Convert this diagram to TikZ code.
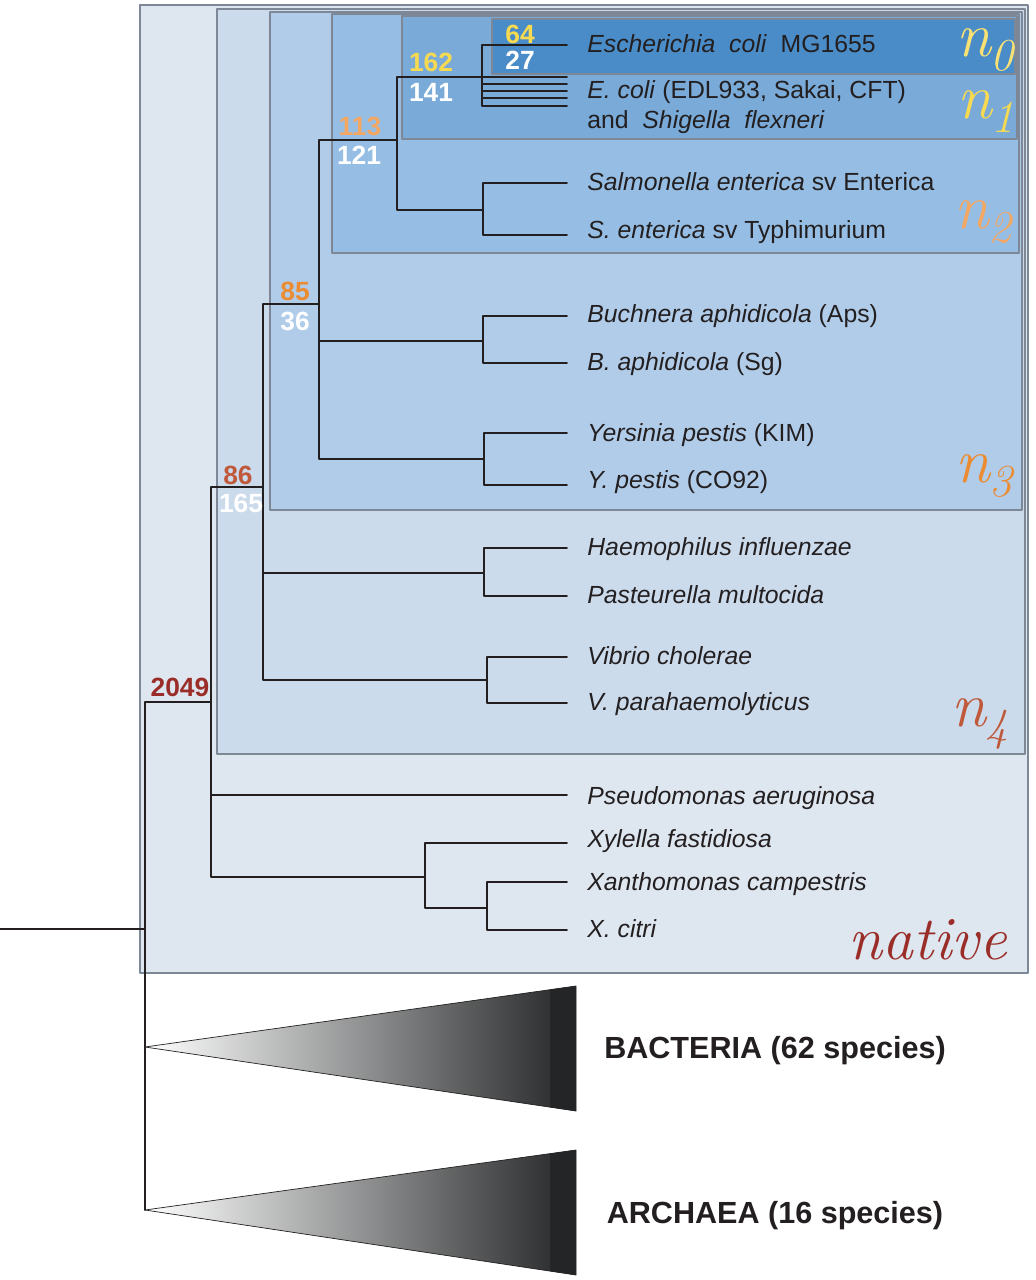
\documentclass[tikz,border=0pt]{standalone}
\usepackage{fontspec}
\setsansfont{Liberation Sans}
\usetikzlibrary{arrows}

\definecolor{boxnative}{RGB}{222,230,240}
\definecolor{boxfour}{RGB}{203,219,236}
\definecolor{boxthree}{RGB}{177,204,233}
\definecolor{boxtwo}{RGB}{150,190,228}
\definecolor{boxone}{RGB}{121,170,216}
\definecolor{boxzero}{RGB}{74,140,200}
\definecolor{rimgray}{RGB}{125,135,150}
\definecolor{inkdark}{RGB}{35,31,32}
\definecolor{numyellow}{RGB}{247,218,80}
\definecolor{numpeach}{RGB}{245,168,100}
\definecolor{numorange}{RGB}{236,140,50}
\definecolor{numrust}{RGB}{192,88,58}
\definecolor{numred}{RGB}{155,45,40}
\definecolor{midgray}{RGB}{124,130,136}
\definecolor{darkend}{RGB}{35,37,38}

\newcommand{\cladesub}[1]{\raisebox{-0.22em}{\fontsize{26}{26}\selectfont #1}}

\begin{document}
\begin{tikzpicture}[line cap=round,line join=round,x=0.02cm,y=-0.02cm,
  branch/.style={line width=1.1pt,inkdark},
  cladebox/.style={draw=rimgray,line width=0.6pt},
  taxon/.style={anchor=west,inner sep=0pt,text height=10pt,text depth=1pt,
    font=\sffamily\fontsize{14.1}{16}\selectfont,text=inkdark},
  num/.style={inner sep=0pt,font=\sffamily\bfseries\fontsize{15}{15}\selectfont},
  cladename/.style={inner sep=0pt,font=\rmfamily\itshape\fontsize{36}{36}\selectfont},
  group/.style={inner sep=0pt,font=\sffamily\bfseries\fontsize{17.4}{20}\selectfont,text=inkdark}]
\useasboundingbox (0,0) rectangle (1035,1280);
%
% nested clade boxes
\draw[cladebox,fill=boxnative] (140,5) rectangle (1028,973);
\draw[cladebox,fill=boxfour] (217,9) rectangle (1025,754);
\draw[cladebox,fill=boxthree] (270,12) rectangle (1022,510);
\draw[cladebox,fill=boxtwo] (332,14) rectangle (1019,253);
\draw[cladebox,fill=boxone] (402,16) rectangle (1017,139);
\draw[cladebox,fill=boxzero] (492,19) rectangle (1015,74);
%
% internal nodes
\coordinate (root) at (0,929);
\coordinate (c0) at (145,929);
\coordinate (c2049) at (211,702);
\coordinate (c86) at (263,487);
\coordinate (c85) at (319,304);
\coordinate (c113) at (397,140);
\coordinate (c162) at (482,77);
\coordinate (cSal) at (483,210);
\coordinate (cBuc) at (483,341);
\coordinate (cYer) at (484,459);
\coordinate (cHae) at (484,573);
\coordinate (cVib) at (487,680);
\coordinate (cXan) at (425,877);
\coordinate (cXc) at (487,908);
\coordinate (aBac) at (145,1047);
\coordinate (aArc) at (145,1210);
%
% leaf ends
\coordinate (lEco) at (567,45);
\foreach \yy [count=\i] in {77,84,91,98,106} \coordinate (lEc\i) at (567,\yy);
\coordinate (lSal) at (567,183);
\coordinate (lSty) at (567,235);
\coordinate (lBuc) at (567,316);
\coordinate (lBsg) at (567,363);
\coordinate (lYer) at (567,433);
\coordinate (lYco) at (567,485);
\coordinate (lHae) at (567,548);
\coordinate (lPas) at (567,596);
\coordinate (lVch) at (567,657);
\coordinate (lVpa) at (567,703);
\coordinate (lPse) at (567,795);
\coordinate (lXyl) at (567,843);
\coordinate (lXca) at (567,882);
\coordinate (lXci) at (567,930);
%
% collapsed groups
\shade[left color=white,middle color=midgray,right color=darkend,draw=inkdark,thin]
  (aBac) -- (576,986) -- (576,1111) -- cycle;
\shade[left color=white,middle color=midgray,right color=darkend,draw=inkdark,thin]
  (aArc) -- (576,1150) -- (576,1275) -- cycle;
\begin{scope}
\clip (aBac) -- (576,986) -- (576,1111) -- cycle;
\fill[darkend] (550,980) rectangle (576,1115);
\end{scope}
\begin{scope}
\clip (aArc) -- (576,1150) -- (576,1275) -- cycle;
\fill[darkend] (550,1145) rectangle (576,1280);
\end{scope}
%
% branches
\draw[branch] (root) -- (c0);
\draw[branch] (c0) |- (c2049);
\draw[branch] (c0) |- (aBac);
\draw[branch] (c0) |- (aArc);
\draw[branch] (c2049) |- (c86);
\draw[branch] (c2049) |- (lPse);
\draw[branch] (c2049) |- (cXan);
\draw[branch] (c86) |- (c85);
\draw[branch] (c86) |- (cHae);
\draw[branch] (c86) |- (cVib);
\draw[branch] (c85) |- (c113);
\draw[branch] (c85) |- (cBuc);
\draw[branch] (c85) |- (cYer);
\draw[branch] (c113) |- (c162);
\draw[branch] (c113) |- (cSal);
\draw[branch] (c162) |- (lEco);
\foreach \i in {1,...,5} \draw[branch] (c162) |- (lEc\i);
\draw[branch] (cSal) |- (lSal);
\draw[branch] (cSal) |- (lSty);
\draw[branch] (cBuc) |- (lBuc);
\draw[branch] (cBuc) |- (lBsg);
\draw[branch] (cYer) |- (lYer);
\draw[branch] (cYer) |- (lYco);
\draw[branch] (cHae) |- (lHae);
\draw[branch] (cHae) |- (lPas);
\draw[branch] (cVib) |- (lVch);
\draw[branch] (cVib) |- (lVpa);
\draw[branch] (cXan) |- (lXyl);
\draw[branch] (cXan) |- (cXc);
\draw[branch] (cXc) |- (lXca);
\draw[branch] (cXc) |- (lXci);
%
% species
\node[taxon] (tEco) at (587,45) {\textit{Escherichia\ \ coli}\ \ MG1655};
\node[taxon] (tEcg) at (587,91) {\textit{E.\ coli} (EDL933, Sakai, CFT)};
\node[taxon] (tShi) at (587,121) {and\ \ \textit{Shigella\ \ flexneri}};
\node[taxon] (tSal) at (587,183) {\textit{Salmonella enterica} sv Enterica};
\node[taxon] (tSty) at (587,231) {\textit{S.\ enterica} sv Typhimurium};
\node[taxon] (tBuc) at (587,315) {\textit{Buchnera aphidicola} (Aps)};
\node[taxon] (tBsg) at (587,363) {\textit{B.\ aphidicola} (Sg)};
\node[taxon] (tYer) at (587,434) {\textit{Yersinia pestis} (KIM)};
\node[taxon] (tYco) at (587,481) {\textit{Y.\ pestis} (CO92)};
\node[taxon] (tHae) at (587,548) {\textit{Haemophilus influenzae}};
\node[taxon] (tPas) at (587,596) {\textit{Pasteurella multocida}};
\node[taxon] (tVch) at (587,657) {\textit{Vibrio cholerae}};
\node[taxon] (tVpa) at (587,703) {\textit{V.\ parahaemolyticus}};
\node[taxon] (tPse) at (587,797) {\textit{Pseudomonas aeruginosa}};
\node[taxon] (tXyl) at (587,840) {\textit{Xylella fastidiosa}};
\node[taxon] (tXca) at (587,883) {\textit{Xanthomonas campestris}};
\node[taxon] (tXci) at (587,930) {\textit{X.\ citri}};
\node[group] (tBac) at (775,1051) {BACTERIA (62 species)};
\node[group] (tArc) at (775,1216) {ARCHAEA (16 species)};
%
% gene counts
\node[num,text=numyellow] (k64) at (520,34) {64};
\node[num,text=white] (k27) at (520,60) {27};
\node[num,text=numyellow] (k162) at (431,62) {162};
\node[num,text=white] (k141) at (431,92) {141};
\node[num,text=numpeach] (k113) at (360,126) {113};
\node[num,text=white] (k121) at (359,155) {121};
\node[num,text=numorange] (k85) at (295,291) {85};
\node[num,text=white] (k36) at (295,321) {36};
\node[num,text=numrust] (k86) at (238,475) {86};
\node[num,text=white] (k165) at (241,503) {165};
\node[num,text=numred] (k2049) at (180,687) {2049};
%
% clade names
\node[cladename,text=numyellow!80!white] (nZero) at (985,50) {n\cladesub{0}};
\node[cladename,text=numyellow] (nOne) at (986,112) {n\cladesub{1}};
\node[cladename,text=numpeach] (nTwo) at (983,222) {n\cladesub{2}};
\node[cladename,text=numorange] (nThree) at (984,476) {n\cladesub{3}};
\node[cladename,text=numrust] (nFour) at (980,724) {n\cladesub{4}};
\node[cladename,text=numred,font=\rmfamily\itshape\fontsize{35}{35}\selectfont] (nNative) at (928,940) {native};
\end{tikzpicture}
\end{document}
